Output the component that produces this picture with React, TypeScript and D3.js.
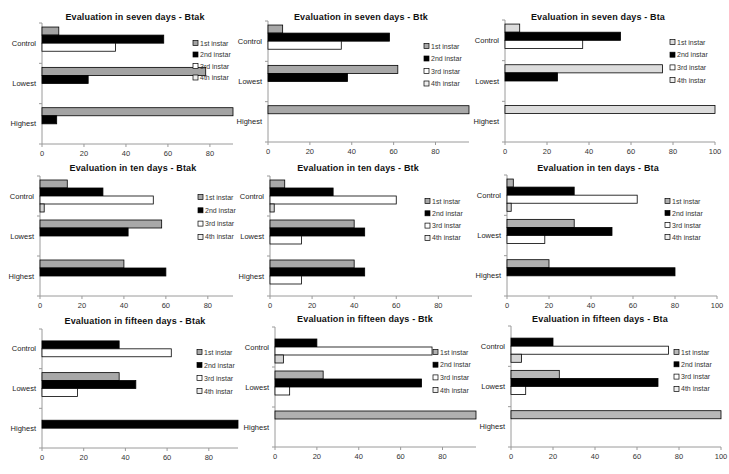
import React from "react";
import * as d3 from "d3";

const categories = ["Control", "Lowest", "Highest"];
const instars = ["1st instar", "2nd instar", "3rd instar", "4th instar"];

const titles = [
  "Evaluation in seven days - Btak",
  "Evaluation in seven days - Btk",
  "Evaluation in seven days - Bta",
  "Evaluation in ten days - Btak",
  "Evaluation in ten days - Btk",
  "Evaluation in ten days - Bta",
  "Evaluation in fifteen days - Btak",
  "Evaluation in fifteen days - Btk",
  "Evaluation in fifteen days - Bta",
];

// rows = categories (Control, Lowest, Highest); columns = 1st..4th instar
const sevenBtak = [[8, 58, 35, 0], [78, 22, 0, 0], [100, 7, 0, 0]];
const sevenBtk = [[7, 58, 35, 0], [62, 38, 0, 0], [100, 0, 0, 0]];
const sevenBta = [[7, 55, 37, 0], [75, 25, 0, 0], [100, 0, 0, 0]];
const tenBtak = [[13, 30, 54, 2], [58, 42, 0, 0], [40, 60, 0, 0]];
const tenBtk = [[7, 30, 60, 2], [40, 45, 15, 0], [40, 45, 15, 0]];
const tenBta = [[3, 32, 62, 2], [32, 50, 18, 0], [20, 80, 0, 0]];
const fifteenBtak = [[0, 37, 62, 0], [37, 45, 17, 0], [0, 100, 0, 0]];
const fifteenBtk = [[0, 20, 75, 4], [23, 70, 7, 0], [100, 0, 0, 0]];
const fifteenBta = [[0, 20, 75, 5], [23, 70, 7, 0], [100, 0, 0, 0]];

const panelData = [sevenBtak, sevenBtk, sevenBta, tenBtak, tenBtk, tenBta, fifteenBtak, fifteenBtk, fifteenBta];

const ticks80 = [0, 20, 40, 60, 80];
const ticks100 = [0, 20, 40, 60, 80, 100];
const axisMax = [91, 96, 100, 92, 96, 100, 94, 96, 100];
const panelTicks = [ticks80, ticks80, ticks100, ticks80, ticks80, ticks100, ticks80, ticks80, ticks100];

// layout (positions / styles)
const layout = [
  { x0: 42, x1: 233, y0: 23, y1: 144, tx: 135, ty: 20, lx: 193, ly: 43, ls: 11.5, c1: "#a3a3a3" },
  { x0: 268, x1: 469, y0: 21, y1: 142, tx: 361, ty: 20, lx: 424, ly: 46, ls: 12.5, c1: "#a8a8a8" },
  { x0: 505, x1: 715, y0: 20, y1: 142, tx: 598, ty: 20, lx: 670, ly: 42, ls: 12.7, c1: "#dcdcdc" },
  { x0: 40, x1: 233, y0: 176, y1: 296, tx: 133, ty: 171, lx: 198, ly: 197, ls: 13.3, c1: "#a8a8a8" },
  { x0: 270, x1: 472, y0: 176, y1: 296, tx: 358, ty: 171, lx: 425, ly: 201, ls: 12.3, c1: "#a8a8a8" },
  { x0: 507, x1: 717, y0: 175, y1: 296, tx: 598, ty: 171, lx: 665, ly: 201, ls: 12, c1: "#b0b0b0" },
  { x0: 42, x1: 238, y0: 329, y1: 448, tx: 135, ty: 324, lx: 197, ly: 352, ls: 13, c1: "#a8a8a8" },
  { x0: 275, x1: 476, y0: 327, y1: 447, tx: 365, ty: 322, lx: 433, ly: 352, ls: 12.7, c1: "#b0b0b0" },
  { x0: 511, x1: 721, y0: 326, y1: 447, tx: 600, ty: 322, lx: 674, ly: 352, ls: 12.3, c1: "#b8b8b8" },
];

const FONT = "Liberation Sans, Arial, sans-serif";

function Panel({ idx }: { idx: number }) {
  const L = layout[idx];
  const data = panelData[idx];
  const x = d3.scaleLinear().domain([0, axisMax[idx]]).range([L.x0, L.x1]).clamp(true);
  const y = d3.scaleBand<string>().domain(categories).range([L.y0, L.y1]).paddingInner(0.2).paddingOuter(0.1);
  const s = d3.scaleBand<string>().domain(instars).range([0, y.bandwidth()]).padding(0);
  const fills = [L.c1, "#000000", "#ffffff", "#d4d4d4"];
  const legendFills = [L.c1, "#000000", "#ffffff", "#eeeeee"];
  const step = (L.y1 - L.y0) / categories.length;
  const boundaries = d3.range(categories.length + 1).map((i) => L.y0 + i * step);
  return (
    <g>
      <text x={L.tx} y={L.ty} textAnchor="middle" fontFamily={FONT} fontWeight="bold" fontSize={9} letterSpacing={0.15} fill="#111">
        {titles[idx]}
      </text>
      {/* axes */}
      <line x1={L.x0} x2={L.x0} y1={L.y0} y2={L.y1} stroke="#9a9a9a" strokeWidth={1} />
      <line x1={L.x0} x2={L.x1} y1={L.y1} y2={L.y1} stroke="#9a9a9a" strokeWidth={1} />
      {boundaries.map((b, i) => (
        <line key={"yt" + i} x1={L.x0 - 3} x2={L.x0} y1={b} y2={b} stroke="#9a9a9a" />
      ))}
      {panelTicks[idx].map((t) => (
        <g key={"xt" + t}>
          <line x1={x(t)} x2={x(t)} y1={L.y1} y2={L.y1 + 3} stroke="#9a9a9a" />
          <text x={x(t)} y={L.y1 + 12} textAnchor="middle" fontFamily={FONT} fontSize={7.5} fill="#333">
            {t}
          </text>
        </g>
      ))}
      {categories.map((c) => (
        <text
          key={"cl" + c}
          x={L.x0 - 6}
          y={(y(c) as number) + y.bandwidth() / 2 + 2.5}
          textAnchor="end"
          fontFamily={FONT}
          fontSize={7.5}
          fill="#222"
        >
          {c}
        </text>
      ))}
      {/* bars */}
      {categories.map((c, ci) =>
        instars.map((ins, si) => {
          const v = data[ci][si];
          if (!v) return null;
          const by = (y(c) as number) + (s(ins) as number);
          return (
            <rect
              key={c + ins}
              x={x(0)}
              y={by}
              width={x(v) - x(0)}
              height={s.bandwidth()}
              fill={fills[si]}
              stroke="#000"
              strokeWidth={0.8}
            />
          );
        })
      )}
      {/* legend */}
      {instars.map((ins, si) => (
        <g key={"lg" + ins} transform={`translate(${L.lx},${L.ly + si * L.ls})`}>
          <rect x={0} y={-2.5} width={5} height={5} fill={legendFills[si]} stroke="#000" strokeWidth={0.7} />
          <text x={7} y={2.5} fontFamily={FONT} fontSize={7} fill="#333">
            {ins}
          </text>
        </g>
      ))}
    </g>
  );
}

export default function App() {
  return (
    <svg
      width={729}
      height={474}
      style={{ position: "absolute", left: 0, top: 0, background: "#fff" }}
    >
      <rect x={0} y={0} width={729} height={474} fill="#fff" />
      {layout.map((_, i) => (
        <Panel key={i} idx={i} />
      ))}
    </svg>
  );
}
